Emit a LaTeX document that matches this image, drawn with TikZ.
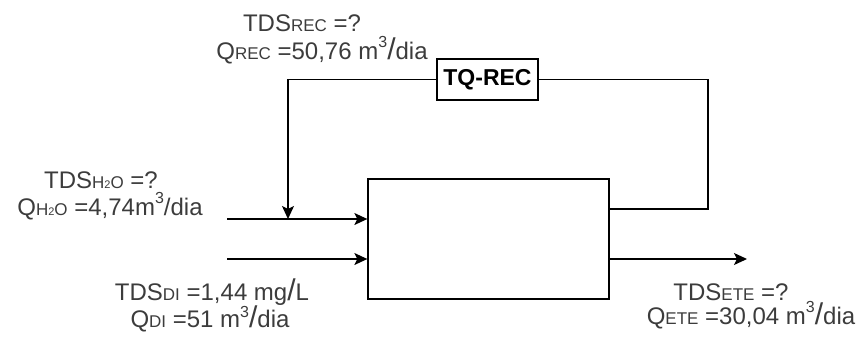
\documentclass[tikz,border=0pt]{standalone}
\usepackage{fontspec}
\setmainfont{Liberation Sans}
\usetikzlibrary{arrows.meta}
\definecolor{txt}{RGB}{60,60,60}
\newcommand\subcap[1]{{\fontsize{17}{18}\selectfont #1}}
\newcommand\ssub[1]{{\fontsize{11}{11}\selectfont #1}}
\newcommand\supthree[1][12pt]{\raisebox{#1}{\fontsize{16}{16}\selectfont 3}}
\newcommand\bigsl{{\fontsize{30}{30}\selectfont /}}
\begin{document}
\begin{tikzpicture}[x=1pt,y=-1pt,
  lbl/.style={anchor=base, inner sep=0pt, text=txt, font=\fontsize{24}{26}\selectfont},
  box/.style={draw=black, line width=1.3pt, inner sep=0pt},
  wire/.style={draw=black, line width=1.3pt},
  arr/.style={wire, -{Stealth[length=13pt,width=12pt,inset=3pt]}}]
\useasboundingbox (0,0) rectangle (867,338);
% main unit
\node[box, minimum width=241pt, minimum height=120pt] (main) at (488.5,239) {};
% recycle tank
\node[box, minimum width=101pt, minimum height=41pt, font=\fontsize{23}{24}\selectfont\bfseries] (tq) at (487.5,79.5) {TQ-REC};
% points
\coordinate (in1) at (227,219);
\coordinate (in2) at (227,259);
\coordinate (out) at (747,259);
\coordinate (r1) at (708,209);
\coordinate (r2) at (708,79.5);
\coordinate (r3) at (288,79.5);
% connectors
\draw[arr] (in1) -- (main.west |- in1);
\draw[arr] (in2) -- (main.west |- in2);
\draw[arr] (main.east |- out) -- (out);
\draw[wire] (main.east |- r1) -- (r1) -- (r2) -- (tq.east);
\draw[arr] (tq.west) -- (r3) -- (r3 |- in1);
% labels
\node[lbl] (l1) at (302,31) {TDS\subcap{REC} =?};
\node[lbl] (l2) at (322,59) {Q\subcap{REC} =50,76 m\supthree\bigsl dia};
\node[lbl] (l3) at (101,188) {TDS\subcap{H\ssub{2}O} =?};
\node[lbl] (l4) at (110,215) {Q\subcap{H\ssub{2}O} =4,74m\supthree/dia};
\node[lbl] (l5) at (212,300) {TDS\subcap{DI} =1,44 mg\bigsl L};
\node[lbl] (l6) at (210,327) {Q\subcap{DI} =51 m\supthree[10pt]\bigsl dia};
\node[lbl] (l7) at (731,300) {TDS\subcap{ETE} =?};
\node[lbl] (l8) at (751,324) {Q\subcap{ETE} =30,04 m\supthree\bigsl dia};
\end{tikzpicture}
\end{document}
